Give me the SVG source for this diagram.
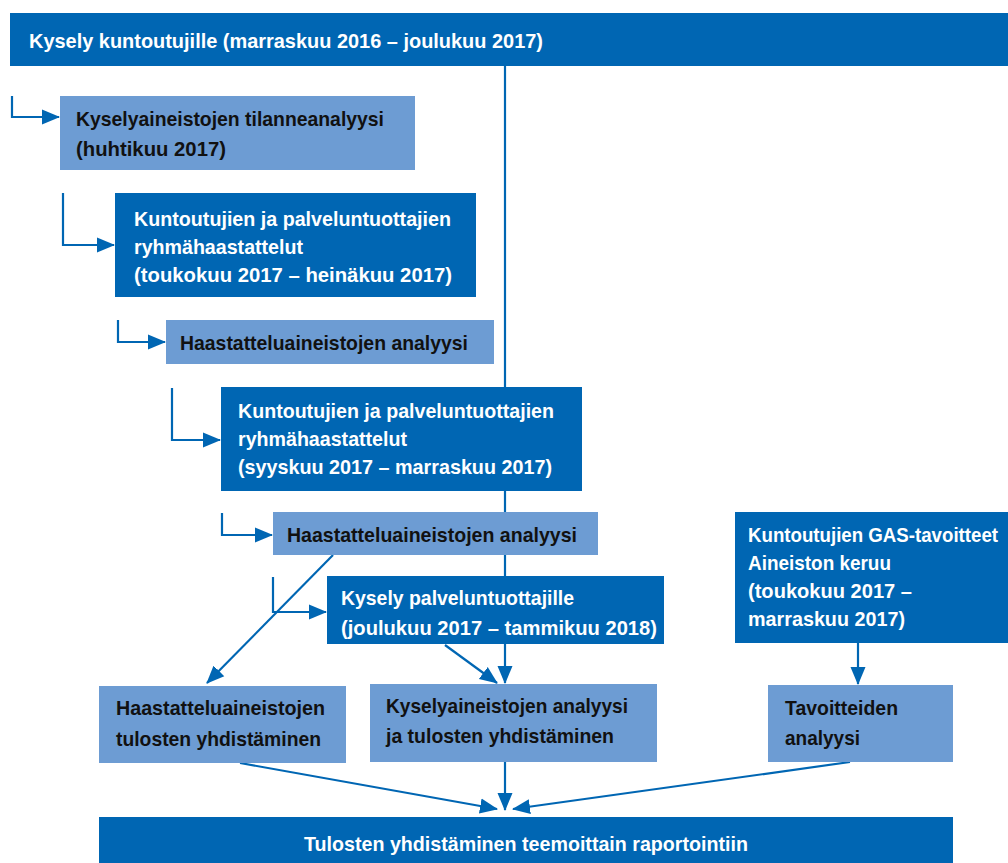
<svg xmlns="http://www.w3.org/2000/svg" width="1008" height="863" viewBox="0 0 1008 863">
<defs>
<style>
.dark{fill:#0066b3}
.light{fill:#6d9cd3}
text{font-family:"Liberation Sans",Arial,sans-serif;font-weight:bold;font-size:21px}
.w{fill:#ffffff}
.b{fill:#111111}
.c{fill:none;stroke:#0066b3;stroke-width:2.2}
</style>
<marker id="ah" markerUnits="userSpaceOnUse" markerWidth="18" markerHeight="18" viewBox="0 0 18 18" refX="17" refY="9" orient="auto">
<path d="M0,1.5 L18,9 L0,16.5 Z" fill="#0066b3"/>
</marker>
</defs>
<rect width="1008" height="863" fill="#ffffff"/>
<g id="connectors">
<path class="c" d="M505,66 V683" marker-end="url(#ah)"/>
<path class="c" d="M12,96 V117 H59" marker-end="url(#ah)"/>
<path class="c" d="M63,193 V245 H114" marker-end="url(#ah)"/>
<path class="c" d="M118,320 V342 H165" marker-end="url(#ah)"/>
<path class="c" d="M172,388 V440 H220" marker-end="url(#ah)"/>
<path class="c" d="M222,513 V535 H272" marker-end="url(#ah)"/>
<path class="c" d="M273,577 V612 H326" marker-end="url(#ah)"/>
<path class="c" d="M333,555 L207,683" marker-end="url(#ah)"/>
<path class="c" d="M445,645 L497,683" marker-end="url(#ah)"/>
<path class="c" d="M858,643 V684" marker-end="url(#ah)"/>
<path class="c" d="M240,763 L497,809" marker-end="url(#ah)"/>
<path class="c" d="M505,762 V810" marker-end="url(#ah)"/>
<path class="c" d="M850,762 L513,809" marker-end="url(#ah)"/>
</g>
<g id="n1">
<rect class="dark" x="10" y="13" width="998" height="53"/>
<text class="w" x="29" y="48" textLength="514" lengthAdjust="spacingAndGlyphs">Kysely kuntoutujille (marraskuu 2016 – joulukuu 2017)</text>
</g>
<g id="n2">
<rect class="light" x="60" y="96" width="355" height="74"/>
<text class="b" x="76" y="126" textLength="308" lengthAdjust="spacingAndGlyphs">Kyselyaineistojen tilanneanalyysi</text>
<text class="b" x="76" y="156" textLength="150" lengthAdjust="spacingAndGlyphs">(huhtikuu 2017)</text>
</g>
<g id="n3">
<rect class="dark" x="115" y="193" width="361" height="104"/>
<text class="w" x="134" y="226" textLength="317" lengthAdjust="spacingAndGlyphs">Kuntoutujien ja palveluntuottajien</text>
<text class="w" x="134" y="254" textLength="169" lengthAdjust="spacingAndGlyphs">ryhmähaastattelut</text>
<text class="w" x="134" y="282" textLength="318" lengthAdjust="spacingAndGlyphs">(toukokuu 2017 – heinäkuu 2017)</text>
</g>
<g id="n4">
<rect class="light" x="166" y="320" width="328" height="44"/>
<text class="b" x="180" y="350" textLength="288" lengthAdjust="spacingAndGlyphs">Haastatteluaineistojen analyysi</text>
</g>
<g id="n5">
<rect class="dark" x="221" y="387" width="361" height="104"/>
<text class="w" x="238" y="418" textLength="316" lengthAdjust="spacingAndGlyphs">Kuntoutujien ja palveluntuottajien</text>
<text class="w" x="238" y="446" textLength="169" lengthAdjust="spacingAndGlyphs">ryhmähaastattelut</text>
<text class="w" x="238" y="474" textLength="314" lengthAdjust="spacingAndGlyphs">(syyskuu 2017 – marraskuu 2017)</text>
</g>
<g id="n6">
<rect class="light" x="273" y="512" width="325" height="43"/>
<text class="b" x="287" y="542" textLength="290" lengthAdjust="spacingAndGlyphs">Haastatteluaineistojen analyysi</text>
</g>
<g id="n7">
<rect class="dark" x="327" y="576" width="337" height="68"/>
<text class="w" x="341" y="605" textLength="233" lengthAdjust="spacingAndGlyphs">Kysely palveluntuottajille</text>
<text class="w" x="341" y="635" textLength="316" lengthAdjust="spacingAndGlyphs">(joulukuu 2017 – tammikuu 2018)</text>
</g>
<g id="n8">
<rect class="light" x="99" y="686" width="247" height="77"/>
<text class="b" x="116" y="715" textLength="209" lengthAdjust="spacingAndGlyphs">Haastatteluaineistojen</text>
<text class="b" x="116" y="746" textLength="205" lengthAdjust="spacingAndGlyphs">tulosten yhdistäminen</text>
</g>
<g id="n9">
<rect class="light" x="370" y="684" width="287" height="78"/>
<text class="b" x="386" y="713" textLength="242" lengthAdjust="spacingAndGlyphs">Kyselyaineistojen analyysi</text>
<text class="b" x="386" y="743" textLength="228" lengthAdjust="spacingAndGlyphs">ja tulosten yhdistäminen</text>
</g>
<g id="n10">
<rect class="dark" x="735" y="512" width="273" height="131"/>
<text class="w" x="748" y="542" textLength="250" lengthAdjust="spacingAndGlyphs">Kuntoutujien GAS-tavoitteet</text>
<text class="w" x="748" y="570" textLength="143" lengthAdjust="spacingAndGlyphs">Aineiston keruu</text>
<text class="w" x="748" y="598" textLength="164" lengthAdjust="spacingAndGlyphs">(toukokuu 2017 –</text>
<text class="w" x="748" y="626" textLength="157" lengthAdjust="spacingAndGlyphs">marraskuu 2017)</text>
</g>
<g id="n11">
<rect class="light" x="768" y="685" width="185" height="77"/>
<text class="b" x="785" y="715" textLength="113" lengthAdjust="spacingAndGlyphs">Tavoitteiden</text>
<text class="b" x="785" y="745" textLength="75" lengthAdjust="spacingAndGlyphs">analyysi</text>
</g>
<g id="n12">
<rect class="dark" x="99" y="817" width="854" height="46"/>
<text class="w" x="304" y="851" textLength="444" lengthAdjust="spacingAndGlyphs">Tulosten yhdistäminen teemoittain raportointiin</text>
</g>
</svg>
